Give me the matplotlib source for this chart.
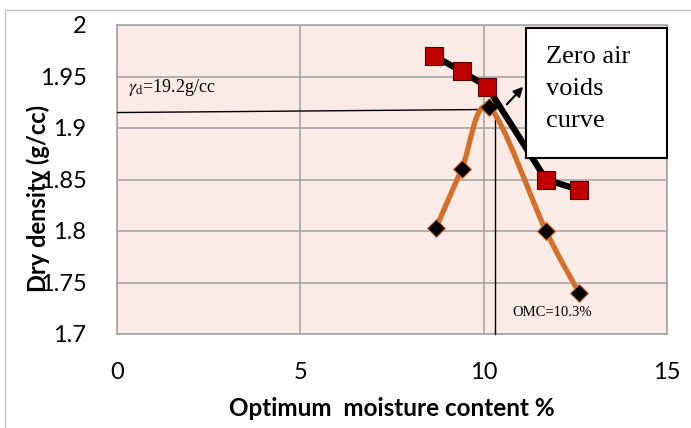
import numpy as np
import matplotlib.pyplot as plt
from matplotlib.path import Path
from matplotlib.patches import PathPatch, Rectangle

# zero air voids curve (red squares)
zav_w = [8.65, 9.4, 10.1, 11.7, 12.6]
zav_d = [1.970, 1.955, 1.940, 1.850, 1.840]

# compaction curve (orange, black diamonds)
cmp_w = [8.7, 9.4, 10.15, 11.7, 12.6]
cmp_d = [1.803, 1.860, 1.920, 1.800, 1.740]

omc = 10.3
gamma_d = 1.915

x_ticks = [0, 5, 10, 15]
y_ticks = [1.7, 1.75, 1.8, 1.85, 1.9, 1.95, 2]
y_ticklabels = ['1.7', '1.75', '1.8', '1.85', '1.9', '1.95', '2']


def smooth_path(xs, ys):
  # excel-like smoothed line: catmull-rom as cubic bezier segments
  pts = list(zip(xs, ys))
  verts = [pts[0]]
  codes = [Path.MOVETO]
  n = len(pts)
  for i in range(n - 1):
    p0 = pts[i - 1] if i > 0 else pts[i]
    p1 = pts[i]
    p2 = pts[i + 1]
    p3 = pts[i + 2] if i + 2 < n else pts[i + 1]
    c1 = (p1[0] + (p2[0] - p0[0]) / 6, p1[1] + (p2[1] - p0[1]) / 6)
    c2 = (p2[0] - (p3[0] - p1[0]) / 6, p2[1] - (p3[1] - p1[1]) / 6)
    verts += [c1, c2, p2]
    codes += [Path.CURVE4] * 3
  return Path(verts, codes)


plt.rcParams['font.family'] = ['Lato', 'DejaVu Sans']
plt.rcParams['mathtext.fontset'] = 'stix'

W, H = 691, 428
fig = plt.figure(figsize=(W / 100, H / 100), dpi=100)
fig.patches.append(Rectangle((5 / W, -0.1), 1.2, 1 - 10 / H + 0.1,
                             transform=fig.transFigure, fill=False,
                             edgecolor='#bfbfbf', linewidth=1))
ax = fig.add_axes([117 / W, 1 - 334 / H, 550 / W, 309 / H])
ax.set_facecolor('#fbebe6')

ax.set_xlim(0, 15)
ax.set_ylim(1.7, 2)
ax.set_xticks(x_ticks)
ax.set_yticks(y_ticks)
ax.set_yticklabels(y_ticklabels)
ax.grid(True, color='#a6a6a6', linewidth=1.2)
ax.set_axisbelow(True)
ax.tick_params(length=0, labelsize=17, pad=22)
ax.tick_params(axis='x', pad=20)
for s in ax.spines.values():
  s.set_color('#a6a6a6')
  s.set_linewidth(1.2)

# reference lines for gamma_d and OMC
ax.plot([0, 10.2], [gamma_d, 1.918], color='black', lw=1, zorder=3)
ax.plot([omc, omc], [1.918, 1.7], color='black', lw=1, zorder=3,
        clip_on=False)

# compaction curve
ax.add_patch(PathPatch(smooth_path(cmp_w, cmp_d), fill=False,
                       edgecolor='#d46f2a', lw=3.8, zorder=4,
                       capstyle='round'))
ax.plot(cmp_w, cmp_d, ls='none', marker='D', ms=9, color='black',
        mec='#d46f2a', mew=0.8, zorder=5)

# zero air voids curve
ax.plot(zav_w, zav_d, color='black', lw=4.5, marker='s', ms=13,
        mfc='#c00000', mec='#5a0000', mew=0.8, zorder=6)

ax.annotate('', xy=(11.13, 1.942), xytext=(10.58, 1.921),
            arrowprops=dict(arrowstyle='-|>', color='black', lw=1.5,
                            mutation_scale=14), zorder=7)

ax.text(0.3, 1.935, r'$\gamma_{\rm d}$=19.2g/cc', family='Liberation Serif',
        fontsize=13, ha='left', va='baseline')
ax.text(10.78, 1.721, 'OMC=10.3%', family='Liberation Serif', fontsize=10.5,
        ha='left', va='center')

# callout box
fig.patches.append(Rectangle((526 / W, 1 - 158 / H), 141 / W, 130 / H,
                             transform=fig.transFigure, facecolor='white',
                             edgecolor='black', linewidth=1.5, zorder=8))
for i, line in enumerate(['Zero air', 'voids', 'curve']):
  fig.text(546 / W, 1 - (57 + 32 * i) / H, line, family='Liberation Serif',
           fontsize=19, ha='left', va='center', zorder=9)

fig.text((117 + 667) / 2 / W, 1 - 408 / H, 'Optimum  moisture content %',
         fontsize=17.5, fontweight='bold', ha='center', va='center')
fig.text(38 / W, 1 - 198 / H, 'Dry density (g/cc)', fontsize=17,
         fontweight='bold', ha='center', va='center', rotation=90)

fig.savefig('out.png', dpi=100)
